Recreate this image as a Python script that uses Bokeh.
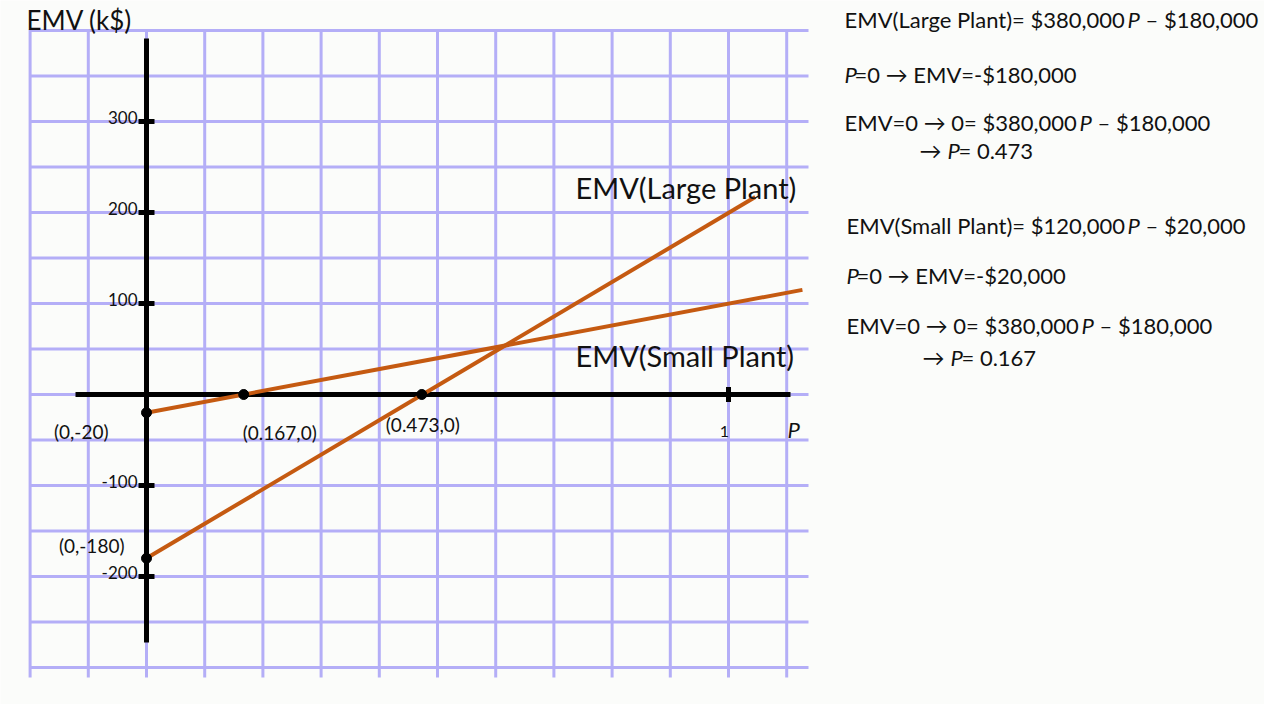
from bokeh.plotting import figure
from bokeh.models import Range1d
from bokeh.core.properties import value
from bokeh.embed import file_html
from bokeh.resources import INLINE

# ---------------- data ----------------
large_p = [0.0, 1.046]
large_emv = [-180.0, 217.0]
small_p = [0.0, 1.127]
small_emv = [-20.0, 115.0]

key_p = [0.0, 0.167, 0.473, 0.0]
key_emv = [-20.0, 0.0, 0.0, -180.0]
key_labels = ["(0,-20)", "(0.167,0)", "(0.473,0)", "(0,-180)"]

y_ticks = [300, 200, 100, -100, -200]
y_tick_labels = ["300", "200", "100", "-100", "-200"]
x_ticks = [1.0]
x_tick_labels = ["1"]

grid_p = [-0.2, -0.1, 0.0, 0.1, 0.2, 0.3, 0.4, 0.5, 0.6, 0.7, 0.8, 0.9, 1.0, 1.1]
grid_emv = [400, 350, 300, 250, 200, 150, 100, 50, 0, -50, -100, -150, -200, -250, -300]

series_names = ["EMV(Large Plant)", "EMV(Small Plant)"]
y_title = "EMV (k$)"
x_title = "P"

# right-hand notes: (text, italic, page_x) segments per line, with baseline page_y
notes = [
    (27, [("EMV(Large Plant)= $380,000", False, 852), ("P", True, 1135), ("\u2013 $180,000", False, 1153)]),
    (82, [("P", True, 852), ("=0 \u2192 EMV=-$180,000", False, 862)]),
    (130, [("EMV=0 \u2192 0= $380,000", False, 852), ("P", True, 1087), ("\u2013 $180,000", False, 1105)]),
    (158, [("\u2192", False, 927), ("P", True, 955), ("= 0.473", False, 966)]),
    (233, [("EMV(Small Plant)= $120,000", False, 854), ("P", True, 1135), ("\u2013 $20,000", False, 1153)]),
    (283, [("P", True, 854), ("=0 \u2192 EMV=-$20,000", False, 864)]),
    (333, [("EMV=0 \u2192 0= $380,000", False, 854), ("P", True, 1089), ("\u2013 $180,000", False, 1107)]),
    (365, [("\u2192", False, 930), ("P", True, 958), ("= 0.167", False, 969)]),
]

# ---------------- layout ----------------
W, H, MARGIN = 1264, 704, 8
OX, OY = 154.0, 402.0      # page pixel of origin
SX, SY = 582.0, 0.91       # px per unit P, px per k$
BG = "#fbfcfa"
GRID = "#b4aef7"
ORANGE = "#c55a11"
FONT = "Lato"
INK = "#111111"


def P(px):
    return (px - OX) / SX


def E(py):
    return (OY - py) / SY


p = figure(width=W, height=H, x_range=Range1d(P(MARGIN), P(MARGIN + W)),
           y_range=Range1d(E(MARGIN + H), E(MARGIN)),
           output_backend="svg", toolbar_location=None, min_border=0,
           x_axis_location=None, y_axis_location=None,
           background_fill_color=BG, border_fill_color=BG, outline_line_color=None)
p.grid.grid_line_color = None

# graph-paper grid
p.segment(x0=grid_p, y0=[E(685)] * len(grid_p), x1=grid_p, y1=[E(37)] * len(grid_p),
          line_color=GRID, line_width=3)
p.segment(x0=[P(38)] * len(grid_emv), y0=grid_emv, x1=[P(816)] * len(grid_emv), y1=grid_emv,
          line_color=GRID, line_width=3)

# axes
p.segment(x0=[P(83)], y0=[0], x1=[P(798)], y1=[0], line_color="black", line_width=5)
p.segment(x0=[0], y0=[E(650)], x1=[0], y1=[E(46)], line_color="black", line_width=5)
p.rect(x=[0] * len(y_ticks), y=y_ticks, width=16, height=5, width_units="screen",
       height_units="screen", fill_color="black", line_color=None)
p.rect(x=x_ticks, y=[0] * len(x_ticks), width=5, height=15, width_units="screen",
       height_units="screen", fill_color="black", line_color=None)

# EMV lines
p.line(large_p, large_emv, line_color=ORANGE, line_width=4)
p.line(small_p, small_emv, line_color=ORANGE, line_width=4)

# key points
p.scatter(key_p, key_emv, size=10, fill_color="black", line_color="black")

# tick labels
p.text(x=[-9 / SX] * len(y_ticks), y=[t + 4 / SY for t in y_ticks], text=y_tick_labels,
       text_font=value(FONT), text_font_size="17px", text_align="right",
       text_baseline="alphabetic", text_color=INK)
p.text(x=[t - 4 / SX for t in x_ticks], y=[-37 / SY] * len(x_ticks), text=x_tick_labels,
       text_font=value(FONT), text_font_size="16px", text_align="center",
       text_baseline="alphabetic", text_color=INK)

# key point labels
kdx = [-38, -1, -36, -22]
kdy = [19, 38, 30, -13]
kal = ["right", "left", "left", "right"]
for xv, yv, lab, dx, dy, al in zip(key_p, key_emv, key_labels, kdx, kdy, kal):
    p.text(x=[xv + dx / SX], y=[yv - dy / SY], text=[lab], text_font=value(FONT),
           text_font_size="19px", text_align=al, text_baseline="alphabetic",
           text_color=INK)

# axis titles
p.text(x=[P(34)], y=[E(27)], text=[y_title], text_font=value(FONT), text_font_size="26px",
       text_baseline="alphabetic", text_color=INK)
p.text(x=[P(795)], y=[E(437)], text=[x_title], text_font=value(FONT), text_font_size="22px",
       text_font_style="italic", text_baseline="alphabetic", text_color=INK)

# series labels
p.text(x=[P(583), P(583)], y=[E(195), E(363)], text=series_names, text_font=value(FONT),
       text_font_size="29px", text_baseline="alphabetic", text_color=INK)

# notes
for base, segs in notes:
    for s, ital, sx in segs:
        p.text(x=[P(sx)], y=[E(base)], text=[s], text_font=value(FONT), text_font_size="22px",
               text_font_style="italic" if ital else "normal", text_baseline="alphabetic",
               text_color=INK)

open("out.html", "w").write(file_html(p, INLINE))
